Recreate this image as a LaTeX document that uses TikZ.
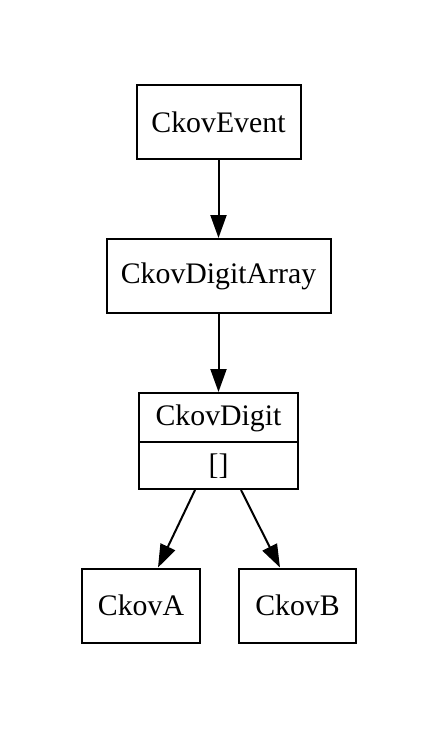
\documentclass[tikz,border=0pt]{standalone}
\usepackage{fontspec}
\setmainfont{Liberation Serif}
\usetikzlibrary{arrows.meta,calc}
\begin{document}
\begin{tikzpicture}[x=1pt,y=-1pt,
  box/.style={draw,line width=2pt,inner sep=0pt,font=\fontsize{29.8}{35}\selectfont},
  lbl/.style={inner sep=0pt,font=\fontsize{29.8}{35}\selectfont},
  edge/.style={line width=2pt,-{Triangle[length=23pt,width=16pt]}}]
\useasboundingbox (0,0) rectangle (440,730);
\node[box,minimum width=164pt,minimum height=74pt] (event) at (218.5,122) {CkovEvent};
\node[box,minimum width=224pt,minimum height=74pt] (array) at (218.5,276) {CkovDigitArray};
\node[box,minimum width=159pt,minimum height=96pt] (digit) at (218.5,441) {};
\draw[line width=2pt] (digit.west |- 0,442) coordinate (dl) -- (digit.east |- 0,442) coordinate (dr);
\node[lbl] (digitname) at (218.5,418) {CkovDigit};
\node[lbl] (digitattr) at (218.5,466) {[]};
\node[box,minimum width=118pt,minimum height=74pt] (cka) at (141,605.5) {CkovA};
\node[box,minimum width=117pt,minimum height=74pt] (ckb) at (297.5,605.5) {CkovB};
\draw[edge] (event.south) -- (array.north);
\draw[edge] (array.south) -- (digit.north);
\draw[edge] ($(digit.south)+(-23.5,0)$) -- ($(cka.north)+(17,0)$);
\draw[edge] ($(digit.south)+(22.5,0)$) -- ($(ckb.north)+(-17.5,0)$);
\end{tikzpicture}
\end{document}
